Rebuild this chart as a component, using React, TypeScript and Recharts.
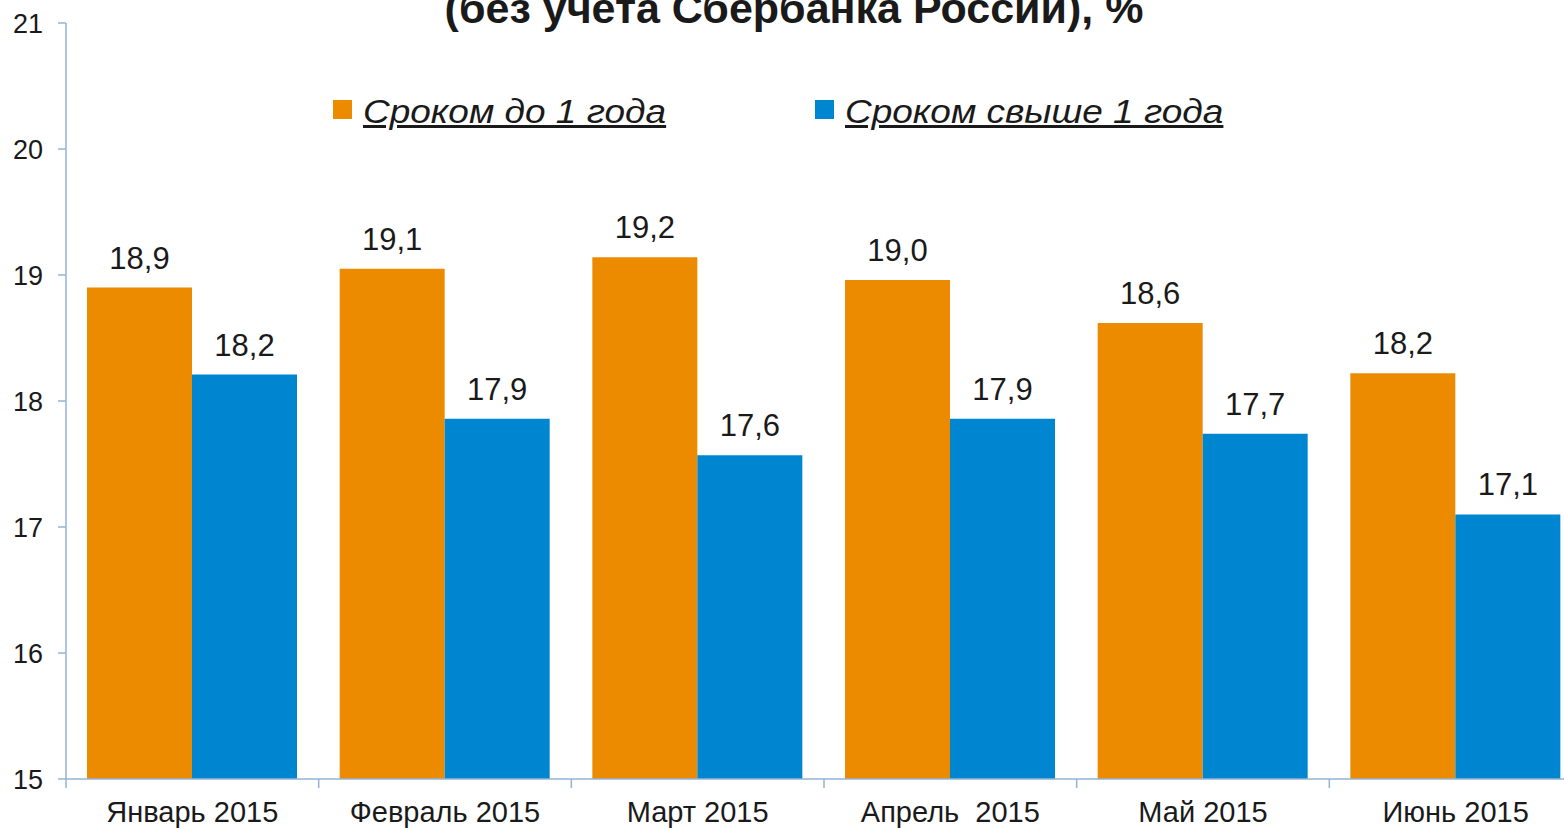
import React from 'react';
import { BarChart, Bar, XAxis, YAxis, Legend, LabelList } from 'recharts';

const categories = ['Январь 2015', 'Февраль 2015', 'Март 2015', 'Апрель  2015', 'Май 2015', 'Июнь 2015'];
const shortTermValues = [18.9, 19.05, 19.14, 18.96, 18.62, 18.22];
const longTermValues = [18.21, 17.86, 17.57, 17.86, 17.74, 17.1];
const shortTermLabels = ['18,9', '19,1', '19,2', '19,0', '18,6', '18,2'];
const longTermLabels = ['18,2', '17,9', '17,6', '17,9', '17,7', '17,1'];
const yTicks = [15, 16, 17, 18, 19, 20, 21];
const seriesNames = ['Сроком до 1 года', 'Сроком свыше 1 года'];
const titleText = '(без учета Сбербанка России), %';

const data = categories.map((category, i) => ({
  category,
  short: shortTermValues[i],
  long: longTermValues[i],
  shortLabel: shortTermLabels[i],
  longLabel: longTermLabels[i],
}));

const FONT = '"Liberation Sans", Arial, Helvetica, sans-serif';
const ORANGE = '#EC8B00';
const BLUE = '#0086D0';
const AXIS = '#95B3D7';
const TEXT = '#1a1a1a';
const CHART_W = 1600;
const CHART_H = 829;
const MARGIN = { top: 23, right: 18, left: 0, bottom: 0 };
const Y_W = 66;
const BAND_HALF = (CHART_W - MARGIN.left - MARGIN.right - Y_W) / categories.length / 2;

const XTick = (props: any) => {
  const { x, y, payload } = props;
  return (
    <g>
      <line x1={x - BAND_HALF} x2={x - BAND_HALF} y1={y} y2={y + 9} stroke={AXIS} strokeWidth={1.5} />
      <text
        x={x}
        y={y + 43}
        textAnchor="middle"
        fill={TEXT}
        fontSize={29}
        fontFamily={FONT}
        style={{ whiteSpace: 'pre' }}
      >
        {payload.value}
      </text>
    </g>
  );
};

const legendLefts = [333, 815];
const legendColors = [ORANGE, BLUE];

const LegendContent = () => (
  <div style={{ position: 'relative', width: 1564, height: 140, fontFamily: FONT }}>
    {seriesNames.map((name, i) => (
      <React.Fragment key={name}>
        <div
          style={{
            position: 'absolute',
            left: legendLefts[i],
            top: 100,
            width: 19,
            height: 19,
            background: legendColors[i],
          }}
        />
        <span
          style={{
            position: 'absolute',
            left: legendLefts[i] + 30,
            top: 94,
            fontSize: 34,
            lineHeight: '34px',
            fontStyle: 'italic',
            textDecoration: 'underline',
            color: TEXT,
            whiteSpace: 'nowrap',
            transform: 'scaleX(1.088)',
            transformOrigin: 'left center',
          }}
        >
          {name}
        </span>
      </React.Fragment>
    ))}
  </div>
);

export default function App() {
  return (
    <div
      style={{
        position: 'fixed',
        top: 0,
        left: 0,
        width: 1564,
        height: 829,
        overflow: 'hidden',
        background: '#ffffff',
      }}
    >
      <BarChart
        width={CHART_W}
        height={CHART_H}
        data={data}
        margin={MARGIN}
        barCategoryGap={21}
        barGap={0}
      >
        <XAxis
          dataKey="category"
          height={50}
          axisLine={{ stroke: AXIS, strokeWidth: 1.5 }}
          tickLine={false}
          tickSize={0}
          tickMargin={0}
          tick={<XTick />}
          interval={0}
        />
        <YAxis
          width={Y_W}
          domain={[15, 21]}
          ticks={yTicks}
          allowDataOverflow
          axisLine={{ stroke: AXIS, strokeWidth: 1.5 }}
          tickLine={{ stroke: AXIS, strokeWidth: 1.5 }}
          tickSize={8}
          tickMargin={15}
          tick={{ fontSize: 27, fill: TEXT, fontFamily: FONT }}
        />
        <Legend
          layout="horizontal"
          verticalAlign="middle"
          align="center"
          wrapperStyle={{ top: 0, left: 0, width: 1564, height: 140 }}
          content={<LegendContent />}
        />
        <Bar dataKey="short" name={seriesNames[0]} fill={ORANGE} isAnimationActive={false}>
          <LabelList dataKey="shortLabel" position="top" offset={19} fill={TEXT} fontSize={31} fontFamily={FONT} />
        </Bar>
        <Bar dataKey="long" name={seriesNames[1]} fill={BLUE} isAnimationActive={false}>
          <LabelList dataKey="longLabel" position="top" offset={19} fill={TEXT} fontSize={31} fontFamily={FONT} />
        </Bar>
      </BarChart>
      <svg
        width={1564}
        height={60}
        style={{ position: 'absolute', top: 0, left: 0, pointerEvents: 'none' }}
      >
        <text x={794} y={23} textAnchor="middle" fontWeight="bold" fontSize={43} fontFamily={FONT} fill={TEXT}>
          {titleText}
        </text>
      </svg>
    </div>
  );
}
